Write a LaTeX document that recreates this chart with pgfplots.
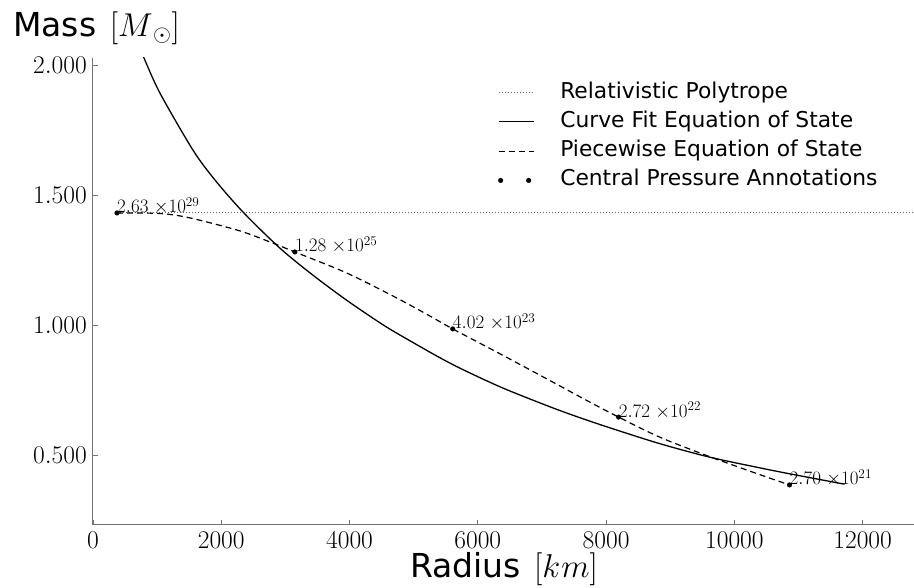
\RequirePackage{fix-cm}
\documentclass[border=0pt]{standalone}
\usepackage[no-math]{fontspec}
\setmainfont{DejaVu Sans}
\usepackage{pgfplots}
\pgfplotsset{compat=1.18}
\begin{document}
\begin{tikzpicture}
\begin{axis}[
  at={(0,0)}, anchor=south west,
  scale only axis, width=821pt, height=467pt,
  xmin=0, xmax=12800, ymin=0.231, ymax=2.027,
  axis lines*=left,
  axis line style={-, draw=black!55, line width=1pt},
  tick align=inside, major tick length=5pt,
  tick style={black!55, line width=0.8pt},
  xtick={0,2000,...,12000}, ytick={0.5,1,1.5,2},
  scaled x ticks=false, scaled y ticks=false,
  xticklabel style={font=\fontsize{25.5}{30}\selectfont, inner sep=0pt, yshift=-7pt,
    /pgf/number format/set thousands separator={}},
  yticklabel style={font=\fontsize{25.5}{30}\selectfont, inner sep=0pt, xshift=-6pt,
    /pgf/number format/fixed, /pgf/number format/fixed zerofill, /pgf/number format/precision=3},
  legend image code/.code={\draw[#1] (0pt,0pt) -- (35pt,0pt); \path (61pt,0pt);},
  legend cell align=left,
  legend style={at={(axis description cs:0.4933,0.9485)}, anchor=north west,
    draw=none, fill=none, inner sep=0pt, outer sep=0pt,
    font=\fontsize{21.8}{26}\selectfont, row sep=8.3pt, /tikz/column sep=0pt,
    nodes={inner xsep=0pt, inner ysep=0pt, text height=16pt, text depth=5pt}},
]
% Relativistic polytrope
\addplot[black!60, line width=0.8pt, dash pattern=on 1pt off 2pt] coordinates {(374,1.435) (12800,1.435)};
\addlegendentry{Relativistic Polytrope}
% Curve fit EoS
\addplot[black, line width=1.3pt, smooth] coordinates {
(760,2.048) (795,2.027) (1044,1.892) (1558,1.673) (1901,1.558) (2337,1.435)
(2913,1.296) (3428,1.192) (3957,1.095) (4471,1.009) (4783,0.962) (5562,0.854)
(6341,0.763) (7120,0.686) (7587,0.644) (8055,0.605) (8834,0.544) (9613,0.492)
(10392,0.451) (10859,0.428) (11716,0.388)};
\addlegendentry{Curve Fit Equation of State}
% Piecewise EoS
\addplot[black, line width=1.2pt, dash pattern=on 6pt off 4pt, smooth] coordinates {
(374,1.431) (1044,1.429) (1511,1.412) (2290,1.362) (2804,1.315) (3147,1.281)
(3957,1.200) (4736,1.104) (5250,1.035) (5609,0.985) (6341,0.890) (7120,0.787)
(7743,0.704) (8195,0.646) (8834,0.569) (9613,0.494) (10392,0.425) (10859,0.385)};
\addlegendentry{Piecewise Equation of State}
% Central pressure annotations
\addplot[only marks, mark=*, mark size=2.3pt, black,
  legend image code/.code={\fill (2pt,0pt) circle (2.3pt); \fill (30pt,0pt) circle (2.3pt); \path (0pt,0pt) (61pt,0pt);},
  nodes near coords, point meta=explicit symbolic,
  every node near coord/.append style={anchor=base west, inner sep=0pt, font=\fontsize{19}{23}\selectfont, black}]
  coordinates {
  (374,1.431) [$2.63\;{\times}10^{29}$]
  (3147,1.281) [$1.28\;{\times}10^{25}$]
  (5609,0.985) [$4.02\;{\times}10^{23}$]
  (8195,0.646) [$2.72\;{\times}10^{22}$]
  (10859,0.385) [$2.70\;{\times}10^{21}$]
  };
\addlegendentry{Central Pressure Annotations}
\end{axis}
\node[anchor=base west, inner sep=0pt, font=\fontsize{33}{40}\selectfont] at (-80pt,488pt) {Mass\hspace{3pt} $[M_{\,\odot}]$};
\node[anchor=base, inner sep=0pt, font=\fontsize{33}{40}\selectfont] at (411pt,-53pt) {Radius\hspace{3pt} $[k\hspace{1pt}m]$};
\pgfresetboundingbox
\path[use as bounding box] (-93pt,-63pt) rectangle (821pt,525pt);
\end{tikzpicture}
\end{document}
